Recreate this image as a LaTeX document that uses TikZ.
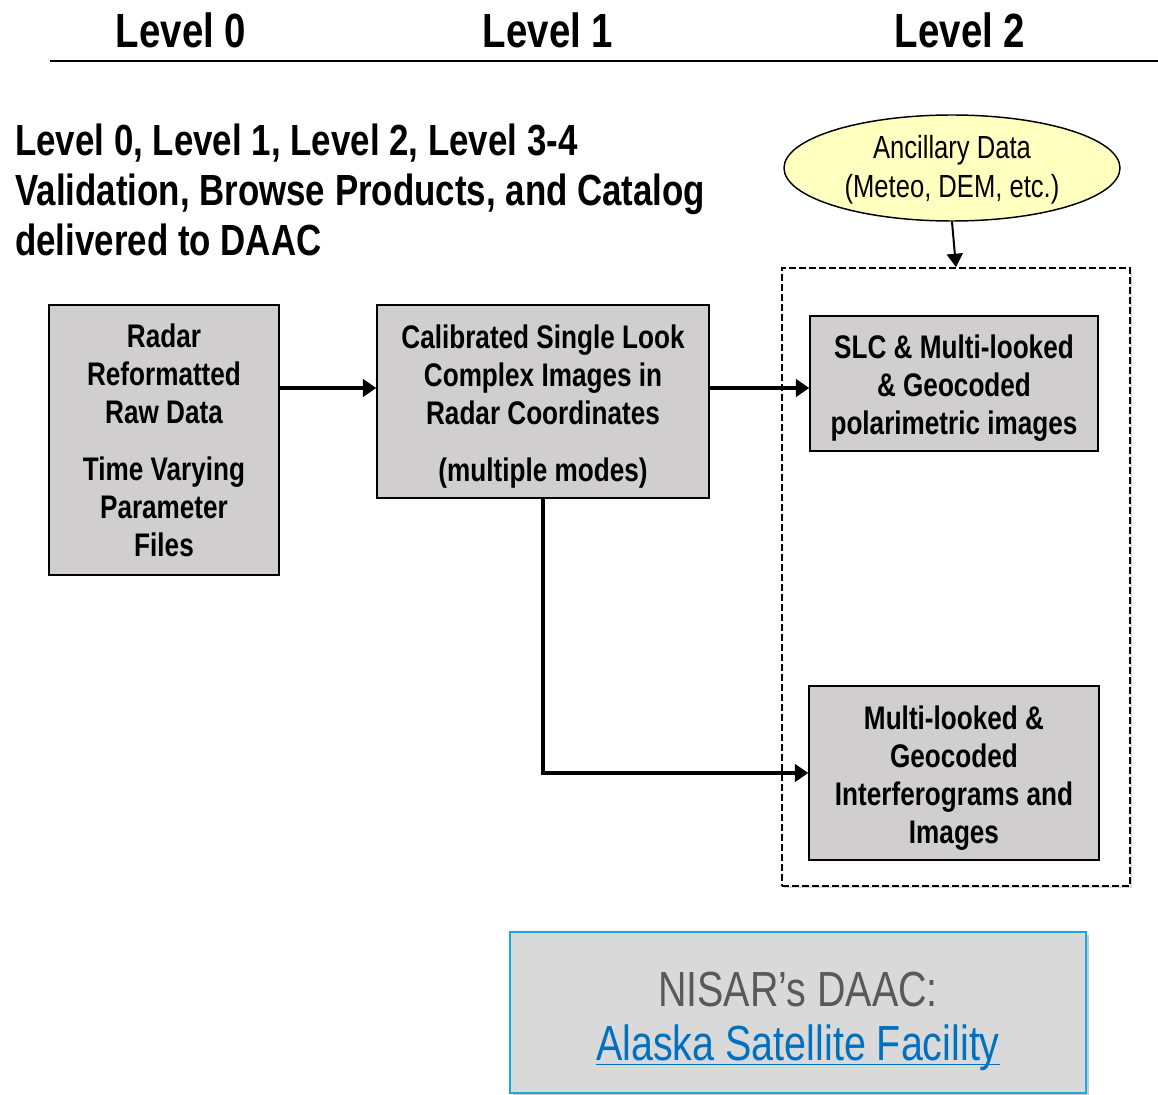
\documentclass[tikz,border=0pt]{standalone}
\usepackage{fontspec}
\setmainfont[FakeStretch=0.8]{Liberation Sans}
\usetikzlibrary{arrows.meta,shadows,shapes.geometric}
\definecolor{boxgray}{RGB}{208,206,206}
\definecolor{daacfill}{RGB}{217,217,217}
\definecolor{daacline}{RGB}{27,167,224}
\definecolor{daactext}{RGB}{89,89,89}
\definecolor{linkblue}{RGB}{0,112,192}
\definecolor{ancyellow}{RGB}{255,255,192}
\newcommand\topgap{\rule{0pt}{25pt}}
\newcommand\linkline[1]{\setbox0\hbox{#1}\rlap{\rule[-3.5pt]{\wd0}{1.3pt}}\box0}

\begin{document}
\begin{tikzpicture}
        [x=0.75pt,y=-0.75pt,every node/.style={align=center,font=\fontsize{24.5}{28.5}\selectfont\bfseries},
        lvl/.style={font=\fontsize{36}{40}\selectfont\bfseries},
        prod/.style={draw,fill=boxgray,line width=1.1pt,inner sep=0},
        flow/.style={line width=3.6pt,-{Triangle[length=10pt,width=13pt]}},
        thinflow/.style={line width=1.5pt,-{Triangle[length=10pt,width=12pt]}}]

        \useasboundingbox (0,0) rectangle (1158,1095);

        \node[lvl] (l0) at (181,30) {Level 0};
        \node[lvl] (l1) at (548,30) {Level 1};
        \node[lvl] (l2) at (960,30) {Level 2};
        \coordinate (r0) at (50,61);
        \coordinate (r1) at (1158,61);
        \draw[line width=2.2pt] (r0) -- (r1);

        \node[anchor=north west,align=left,inner sep=0,font=\fontsize{32.7}{37.5}\selectfont\bfseries] (title) at (15,124)
          {Level 0, Level 1, Level 2, Level 3-4\\Validation, Browse Products, and Catalog\\delivered to DAAC};

        \node[draw,ellipse,fill=ancyellow,line width=1.1pt,inner sep=0,minimum width=252pt,minimum height=79.5pt,
          font=\fontsize{24}{29}\selectfont] (anc) at (952,168) {\rule{0pt}{20pt}Ancillary Data\\(Meteo, DEM, etc.)};

        \node[draw,dashed,dash pattern=on 5pt off 2.5pt,line width=1.4pt,fill=white,minimum width=261pt,minimum height=463.5pt,
          drop shadow={shadow xshift=1.5pt,shadow yshift=-1.5pt,opacity=0.3}] (dbox) at (956,577) {};

        \node[prod,minimum width=172.5pt,minimum height=202.5pt] (b0) at (164,440)
          {Radar\\Reformatted\\Raw Data\\[14pt]Time Varying\\Parameter\\Files};
        \node[prod,minimum width=249pt,minimum height=144.75pt] (b1) at (543,401.5)
          {\topgap Calibrated Single Look\\Complex Images in\\Radar Coordinates\\[14pt](multiple modes)};
        \node[prod,minimum width=216pt,minimum height=101.25pt] (b2) at (954,383.5)
          {\topgap SLC \& Multi-looked\\\& Geocoded\\polarimetric images};
        \node[prod,minimum width=217.5pt,minimum height=130.5pt] (b3) at (954,773)
          {\topgap Multi-looked \&\\Geocoded\\Interferograms and\\Images};

        \node[draw=daacline,fill=daacfill,line width=1.5pt,minimum width=432pt,minimum height=120.75pt,
          drop shadow={shadow xshift=2pt,shadow yshift=-2pt,opacity=0.4},
          font=\fontsize{37}{41}\selectfont] (daac) at (798,1012.5)
          {\rule{0pt}{39pt}\color{daactext}NISAR’s DAAC:\\\color{linkblue}\linkline{Alaska Satellite Facility}};

        % arrows
        \coordinate (mid) at (0,388);
        \draw[flow] (b0.east |- mid) -- (b1.west |- mid);
        \draw[flow] (b1.east |- mid) -- (b2.west |- mid);
        \draw[flow] (b1.south) |- (b3.west);
        \draw[thinflow] (anc.south) -- (dbox.north);

      \end{tikzpicture}
\end{document}
